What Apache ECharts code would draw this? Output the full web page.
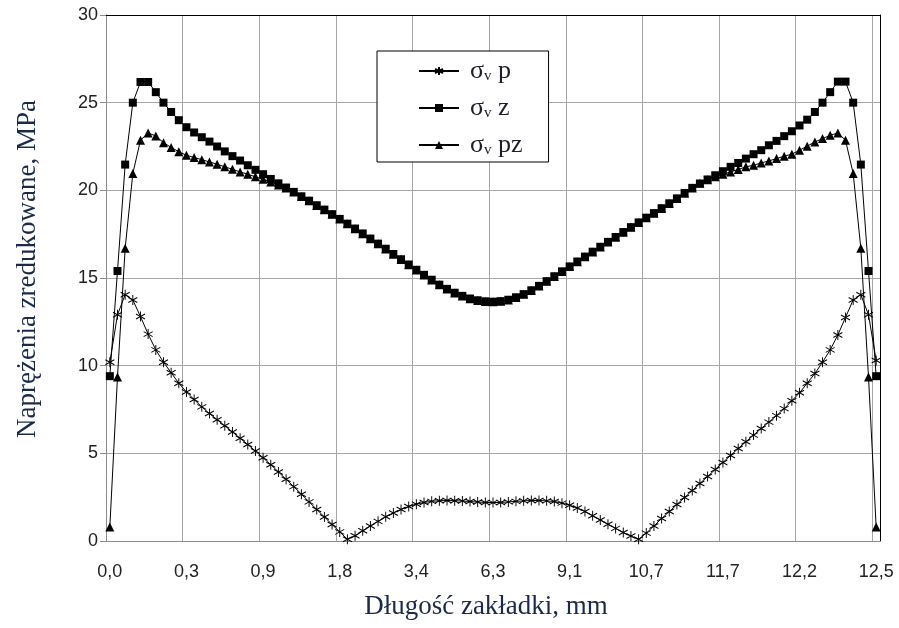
<!DOCTYPE html>
<html>
<head>
<meta charset="utf-8">
<title>Naprężenia zredukowane</title>
<script src="https://cdn.jsdelivr.net/npm/echarts@6/dist/echarts.min.js"></script>
<style>
    html, body { margin: 0; padding: 0; background: #fff; }
    #chart { width: 899px; height: 628px; }
</style>
</head>
<body>
<div id="chart"></div>
<script>
// etykiety osi X (co 10 punktow)
var tickLabels = ['0,0', '0,3', '0,9', '1,8', '3,4', '6,3', '9,1', '10,7', '11,7', '12,2', '12,5'];
var pointsPerTick = 10;

var seriesNames = ['σv p', 'σv z', 'σv pz'];

// σv p
var sigmaP = [
    10.2, 12.9, 14.05, 13.75, 12.8, 11.8, 10.9, 10.2, 9.6, 9.0,
    8.5, 8.07, 7.65, 7.27, 6.92, 6.57, 6.22, 5.86, 5.5, 5.13,
    4.75, 4.35, 3.94, 3.52, 3.1, 2.67, 2.23, 1.8, 1.37, 0.94,
    0.52, 0.1, 0.3, 0.58, 0.86, 1.12, 1.38, 1.6, 1.8, 1.97,
    2.1, 2.2, 2.26, 2.3, 2.31, 2.3, 2.28, 2.25, 2.22, 2.2,
    2.19, 2.2, 2.23, 2.26, 2.29, 2.31, 2.31, 2.29, 2.25, 2.16,
    2.04, 1.88, 1.68, 1.44, 1.2, 0.96, 0.72, 0.48, 0.28, 0.1,
    0.45, 0.86, 1.28, 1.68, 2.08, 2.48, 2.88, 3.28, 3.68, 4.08,
    4.48, 4.88, 5.28, 5.66, 6.04, 6.42, 6.78, 7.15, 7.55, 8.0,
    8.45, 9.0, 9.55, 10.2, 10.9, 11.75, 12.75, 13.75, 14.05, 12.9,
    10.3
];

// σv z
var sigmaZ = [
    9.4, 15.4, 21.47, 25.0, 26.18, 26.18, 25.6, 25.0, 24.47, 24.0,
    23.6, 23.3, 23.03, 22.78, 22.5, 22.22, 21.95, 21.7, 21.43, 21.17,
    20.92, 20.65, 20.4, 20.16, 19.91, 19.66, 19.41, 19.15, 18.9, 18.64,
    18.37, 18.1, 17.82, 17.54, 17.25, 16.96, 16.67, 16.37, 16.07, 15.77,
    15.47, 15.18, 14.9, 14.62, 14.38, 14.16, 13.98, 13.83, 13.73, 13.67,
    13.65, 13.68, 13.76, 13.9, 14.08, 14.3, 14.55, 14.82, 15.1, 15.38,
    15.66, 15.94, 16.22, 16.5, 16.78, 17.06, 17.34, 17.62, 17.9, 18.17,
    18.44, 18.7, 18.98, 19.26, 19.54, 19.85, 20.14, 20.39, 20.62, 20.86,
    21.09, 21.34, 21.56, 21.81, 22.06, 22.29, 22.57, 22.82, 23.09, 23.37,
    23.7, 24.03, 24.47, 25.0, 25.6, 26.2, 26.2, 25.0, 21.47, 15.4,
    9.4
];

// σv pz
var sigmaPZ = [
    0.8, 9.36, 16.7, 20.96, 22.86, 23.27, 23.1, 22.72, 22.45, 22.2,
    22.0, 21.87, 21.75, 21.62, 21.49, 21.34, 21.2, 21.05, 20.92, 20.77,
    20.63, 20.48, 20.3, 20.14, 19.9, 19.65, 19.4, 19.14, 18.89, 18.63,
    18.36, 18.09, 17.81, 17.53, 17.24, 16.95, 16.66, 16.36, 16.06, 15.76,
    15.46, 15.17, 14.89, 14.61, 14.37, 14.15, 13.97, 13.82, 13.72, 13.66,
    13.64, 13.67, 13.75, 13.89, 14.07, 14.29, 14.54, 14.81, 15.09, 15.37,
    15.65, 15.93, 16.21, 16.49, 16.77, 17.05, 17.33, 17.61, 17.89, 18.16,
    18.43, 18.69, 18.97, 19.25, 19.53, 19.84, 20.13, 20.4, 20.6, 20.77,
    20.92, 21.05, 21.19, 21.34, 21.43, 21.56, 21.68, 21.81, 21.95, 22.06,
    22.29, 22.52, 22.76, 22.95, 23.14, 23.27, 22.86, 20.96, 16.7, 9.36,
    0.8
];

var yTicks = [0, 5, 10, 15, 20, 25, 30];

// kategorie - podpis tylko co 10 punkt
var categories = [];
for (var i = 0; i < sigmaP.length; i++) {
    categories.push(i % pointsPerTick === 0 ? tickLabels[i / pointsPerTick] : '');
}

var gridGray = '#a6a6a6';
var axisGray = '#8c8c8c';
var nameColor = '#1b2a48';
var asterisk = 'path://M5,0L5,10M0.67,2.5L9.33,7.5M0.67,7.5L9.33,2.5';

var chart = echarts.init(document.getElementById('chart'), null, {renderer: 'canvas'});

var option = {
    animation: false,
    backgroundColor: '#fff',
    grid: {left: 106, right: 19, top: 15, bottom: 87},
    legend: {
        orient: 'vertical',
        left: 377,
        top: 51,
        data: seriesNames,
        itemWidth: 40,
        itemHeight: 10,
        itemGap: 11,
        padding: [7, 26, 4, 41],
        backgroundColor: '#fff',
        borderColor: '#000',
        borderWidth: 1,
        formatter: function (name) {
            var parts = name.split(' ');
            return '{s|' + parts[0].charAt(0) + '}{v|' + parts[0].slice(1) + '}{t| ' + parts[1] + '}';
        },
        textStyle: {
            color: '#1e1e2a',
            padding: [0, 0, 0, 6],
            rich: {
                s: {fontFamily: 'Liberation Serif', fontSize: 26, lineHeight: 26, verticalAlign: 'bottom', color: '#1e1e2a'},
                v: {fontFamily: 'Liberation Serif', fontSize: 15, lineHeight: 15, verticalAlign: 'bottom', color: '#1e1e2a'},
                t: {fontFamily: 'Liberation Serif', fontSize: 26, lineHeight: 26, verticalAlign: 'bottom', color: '#1e1e2a'}
            }
        }
    },
    xAxis: [
        {
            type: 'category',
            data: categories,
            boundaryGap: true,
            axisLine: {onZero: false, lineStyle: {color: axisGray, width: 1}},
            axisTick: {interval: pointsPerTick - 1, length: 6, lineStyle: {color: axisGray}},
            axisLabel: {
                interval: pointsPerTick - 1,
                margin: 22,
                fontFamily: 'Liberation Sans',
                fontSize: 18,
                color: '#222'
            },
            splitLine: {show: true, interval: pointsPerTick - 1, showMaxLine: false, lineStyle: {color: gridGray, width: 1}},
            name: 'Długość zakładki, mm',
            nameLocation: 'middle',
            nameGap: 52,
            nameTextStyle: {fontFamily: 'Liberation Serif', fontSize: 27, color: nameColor, padding: [0, 14, 0, 0]}
        },
        {
            // gorna ramka wykresu
            type: 'category',
            data: categories,
            position: 'top',
            axisLine: {onZero: false, lineStyle: {color: '#000', width: 1}},
            axisTick: {show: false},
            axisLabel: {show: false},
            splitLine: {show: false}
        }
    ],
    yAxis: [
        {
            type: 'value',
            min: yTicks[0],
            max: yTicks[yTicks.length - 1],
            interval: yTicks[1] - yTicks[0],
            axisLine: {show: true, onZero: false, lineStyle: {color: axisGray, width: 1}},
            axisTick: {show: true, length: 6, lineStyle: {color: axisGray}},
            axisLabel: {margin: 8, fontFamily: 'Liberation Sans', fontSize: 18, color: '#222'},
            splitLine: {show: true, showMaxLine: false, lineStyle: {color: gridGray, width: 1}},
            name: 'Naprężenia zredukowane, MPa',
            nameLocation: 'middle',
            nameGap: 65,
            nameTextStyle: {fontFamily: 'Liberation Serif', fontSize: 27, color: nameColor, padding: [0, 0, 0, 18]}
        },
        {
            // prawa ramka wykresu
            type: 'value',
            position: 'right',
            min: yTicks[0],
            max: yTicks[yTicks.length - 1],
            axisLine: {show: true, onZero: false, lineStyle: {color: '#000', width: 1}},
            axisTick: {show: false},
            axisLabel: {show: false},
            splitLine: {show: false}
        }
    ],
    series: [
        {
            name: seriesNames[0],
            type: 'line',
            data: sigmaP,
            z: 4,
            symbol: asterisk,
            symbolSize: [9, 10],
            showAllSymbol: true,
            lineStyle: {color: '#000', width: 1},
            itemStyle: {color: '#000', borderColor: '#000', borderWidth: 1}
        },
        {
            name: seriesNames[1],
            type: 'line',
            data: sigmaZ,
            z: 3,
            symbol: 'rect',
            symbolSize: 8,
            showAllSymbol: true,
            lineStyle: {color: '#000', width: 1},
            itemStyle: {color: '#000'}
        },
        {
            name: seriesNames[2],
            type: 'line',
            data: sigmaPZ,
            z: 2,
            symbol: 'triangle',
            symbolSize: 9,
            showAllSymbol: true,
            lineStyle: {color: '#000', width: 1},
            itemStyle: {color: '#000'}
        }
    ]
};

chart.setOption(option);
</script>
</body>
</html>
